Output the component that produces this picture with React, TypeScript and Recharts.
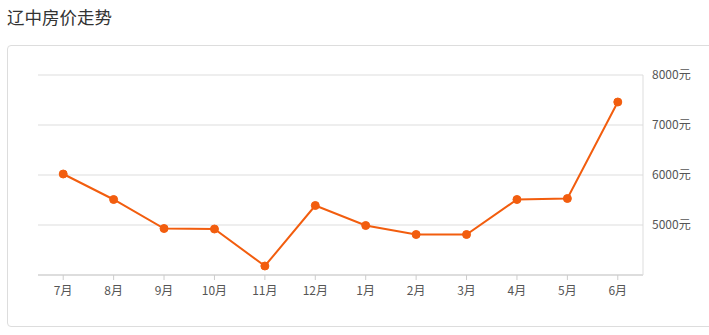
import React from 'react';
import { LineChart, Line, XAxis, YAxis, CartesianGrid } from 'recharts';

// months shown on the x axis
const months = ['7月', '8月', '9月', '10月', '11月', '12月', '1月', '2月', '3月', '4月', '5月', '6月'];
// average price, yuan per m²
const prices = [6020, 5510, 4930, 4920, 4180, 5390, 4990, 4810, 4810, 5510, 5530, 7460];
const yTicks = [5000, 6000, 7000, 8000];

const data = months.map((m, i) => ({ month: m, price: prices[i] }));

const ORANGE = '#f25d0e';
const FONT = '"Noto Sans CJK SC", "Noto Sans", sans-serif';

const App: React.FC = () => {
  return (
    <div style={{ position: 'absolute', left: 0, top: 0, width: 709, height: 335, overflow: 'hidden', background: '#fff', fontFamily: FONT }}>
      <div style={{ position: 'absolute', left: 7, top: 5, fontSize: 17.5, color: '#333', lineHeight: '24px' }}>
        辽中房价走势
      </div>
      {/* card frame, runs off the right edge */}
      <div style={{ position: 'absolute', left: 7, top: 45, width: 730, height: 280, border: '1px solid #ddd', borderRadius: 4 }} />
      <div style={{ position: 'absolute', left: 0, top: 0 }}>
        <LineChart width={709} height={335} data={data} margin={{ top: 75, right: 10, bottom: 30, left: 38 }}>
          <CartesianGrid vertical={false} stroke="#ddd" />
          <XAxis
            dataKey="month"
            scale="band"
            stroke="#ccc"
            tickSize={5}
            tickMargin={6}
            height={30}
            tick={{ fill: '#555', fontSize: 12, fontFamily: FONT }}
          />
          <YAxis
            orientation="right"
            domain={[4000, 8000]}
            ticks={yTicks}
            width={56}
            stroke="#ddd"
            tickLine={false}
            tickSize={0}
            tickMargin={9}
            tickFormatter={(v: number) => `${v}元`}
            tick={{ fill: '#555', fontSize: 12, fontFamily: FONT }}
          />
          <Line
            type="linear"
            dataKey="price"
            stroke={ORANGE}
            strokeWidth={2}
            dot={{ r: 4, fill: ORANGE, stroke: ORANGE, strokeWidth: 1 }}
            isAnimationActive={false}
          />
        </LineChart>
      </div>
    </div>
  );
};

export default App;
